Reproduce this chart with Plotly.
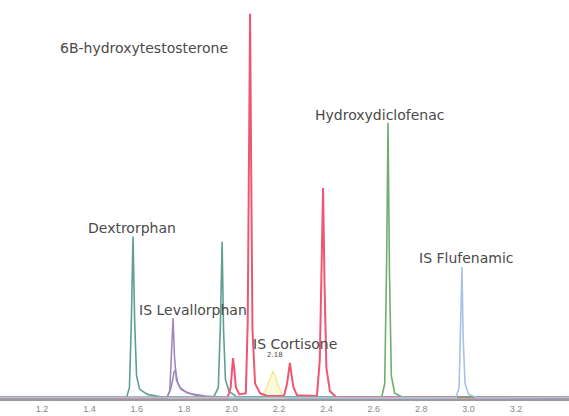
import plotly.graph_objects as go

# Retention time axis (min) and relative intensity (%)
x_range = [1.0228, 3.4236]
tick_vals = [1.2, 1.4, 1.6, 1.8, 2.0, 2.2, 2.4, 2.6, 2.8, 3.0, 3.2, 3.4]
tick_text = ["1.2", "1.4", "1.6", "1.8", "2.0", "2.2", "2.4", "2.6", "2.8", "3.0", "3.2", "3.4"]

# Teal trace: Dextrorphan + second peak
teal_t = [1.02, 1.557, 1.569, 1.577, 1.584, 1.591, 1.599, 1.612, 1.645, 1.70, 1.924, 1.944, 1.953, 1.960, 1.966, 1.974, 1.989, 2.02, 3.43]
teal_y = [0.4, 0.4, 3, 20, 42.2, 20, 6, 2.5, 1.2, 0.6, 0.4, 3, 20, 40.8, 18, 5, 2, 0.6, 0.4]

# Purple trace: IS Levallorphan
purple_t = [1.02, 1.727, 1.739, 1.747, 1.753, 1.759, 1.767, 1.782, 1.807, 1.847, 1.91, 3.43]
purple_y = [0.4, 0.4, 2, 12, 21, 11, 5, 3, 1.8, 1.0, 0.4, 0.4]

# Grey-violet trace (broad companion)
violet_t = [1.02, 1.727, 1.745, 1.757, 1.763, 1.773, 1.787, 1.817, 1.887, 1.99, 3.43]
violet_y = [0.3, 0.3, 3, 7, 7.5, 4, 2.5, 1.5, 0.8, 0.3, 0.3]

# Red trace: 6B-hydroxytestosterone and related peaks
red_t = [1.02, 1.983, 1.996, 2.002, 2.006, 2.011, 2.018, 2.033, 2.06, 2.068, 2.074, 2.078, 2.082, 2.088, 2.099, 2.12, 2.15,
         2.221, 2.234, 2.242, 2.246, 2.251, 2.261, 2.276, 2.36, 2.372, 2.380, 2.386, 2.392, 2.400, 2.415, 2.44, 3.43]
red_y = [0.4, 0.4, 3, 8, 10.6, 8, 3, 1.2, 1.5, 20, 70, 100, 65, 18, 4, 1.5, 0.8,
         0.8, 4, 8, 9.4, 7, 3, 1.0, 0.8, 10, 35, 54.8, 30, 8, 2, 0.6, 0.4]

# Yellow trace: IS Cortisone (2.18)
yellow_t = [2.122, 2.142, 2.157, 2.168, 2.175, 2.184, 2.197, 2.214, 2.232]
yellow_y = [0.3, 2, 4.5, 6.5, 7.2, 6, 3.5, 1.2, 0.3]

# Green trace: Hydroxydiclofenac
green_t = [1.02, 2.633, 2.646, 2.654, 2.660, 2.666, 2.674, 2.688, 2.72, 3.43]
green_y = [0.4, 0.4, 4, 35, 71.7, 33, 6, 1.5, 0.5, 0.4]

# Blue trace: IS Flufenamic
blue_t = [1.02, 2.947, 2.960, 2.967, 2.972, 2.977, 2.985, 3.000, 3.035, 3.43]
blue_y = [0.4, 0.4, 3, 18, 34.3, 16, 4, 1.2, 0.4, 0.4]

# Peak labels
label_text = ["6B-hydroxytestosterone", "Hydroxydiclofenac", "Dextrorphan", "IS Flufenamic",
              "IS Levallorphan", "IS Cortisone", "2.18"]
label_t = [1.630, 2.622, 1.580, 2.993, 1.837, 2.268, 2.183]
label_y = [91.2, 73.8, 44.4, 36.6, 23.1, 14.3, 11.4]
label_size = [14, 14, 14, 14, 14, 14, 7]

fig = go.Figure()

def add(t, y, color, width=1.5, fill=None, fillcolor=None):
    fig.add_trace(go.Scatter(x=t, y=y, mode="lines", line=dict(color=color, width=width),
                             fill=fill, fillcolor=fillcolor, hoverinfo="skip"))

add(violet_t, violet_y, "#8e8aae", 1.5)
add(purple_t, purple_y, "#a083bd", 1.5)
add(yellow_t, yellow_y, "#f4e88a", 1.2, fill="tozeroy", fillcolor="rgba(252,246,196,0.6)")
add(teal_t, teal_y, "#5f9f92", 1.6)
add(red_t, red_y, "#ef5674", 2.0)
add(green_t, green_y, "#6fae6f", 1.6)
add(blue_t, blue_y, "#a9c2e6", 1.6)

for txt, t, y, s in zip(label_text, label_t, label_y, label_size):
    fig.add_annotation(x=t, y=y, xref="x", yref="y", text=txt, showarrow=False,
                       font=dict(family="DejaVu Sans, Arial", size=s, color="#4a4a4a"))

fig.update_layout(
    width=569, height=416,
    margin=dict(l=0, r=0, t=0, b=17),
    paper_bgcolor="white", plot_bgcolor="white",
    showlegend=False,
    xaxis=dict(range=x_range, tickvals=tick_vals, ticktext=tick_text,
               showgrid=False, zeroline=False, showline=True, linecolor="#9a9a9a", linewidth=1.5,
               ticks="", tickfont=dict(family="Arial", size=9, color="#888888")),
    yaxis=dict(range=[0, 103.6], visible=False, showgrid=False, zeroline=False),
)

fig.write_html("out.html")
